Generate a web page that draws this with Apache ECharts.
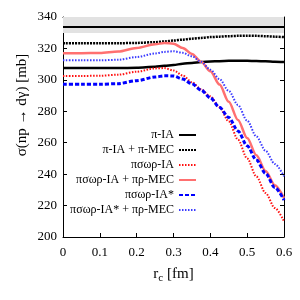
<!DOCTYPE html>
<html>
<head>
<meta charset="utf-8">
<script src="https://cdn.jsdelivr.net/npm/echarts@6/dist/echarts.min.js"></script>
<style>html,body{margin:0;padding:0;background:#fff}#c{width:300px;height:300px}</style>
</head>
<body>
<div id="c"></div>
<script>
// r_c grid [fm]
const rc = [0, 0.05, 0.1, 0.15, 0.2, 0.25, 0.275, 0.3, 0.325, 0.35, 0.375, 0.4, 0.425, 0.45, 0.475, 0.5, 0.525, 0.55, 0.575, 0.6];
const piIA = [307.5, 307.5, 307.5, 307.5, 307.7, 308.3, 308.9, 309.5, 310.2, 310.8, 311.3, 311.7, 311.9, 312.1, 312.1, 312.1, 312.0, 311.8, 311.5, 311.3];
const piIA_MEC = [323.3, 323.3, 323.3, 323.3, 323.5, 324.0, 324.4, 325.0, 325.6, 326.2, 326.7, 327.2, 327.5, 327.8, 328.0, 328.1, 328.0, 327.8, 327.5, 327.2];
const psorIA = [302.5, 302.5, 302.6, 303.3, 305.2, 307.3, 307.5, 306.0, 302.8, 298.5, 294.0, 289.5, 282.5, 273.5, 262.0, 250.0, 238.5, 228.0, 218.5, 210.0];
const psorIA_MEC = [317.0, 317.0, 317.1, 318.0, 320.3, 322.6, 323.5, 323.0, 320.3, 316.5, 311.5, 305.5, 297.0, 286.0, 274.5, 263.0, 252.0, 242.0, 233.0, 224.8];
const psorIAs = [297.2, 297.2, 297.2, 297.6, 299.5, 301.8, 302.6, 302.5, 300.5, 297.5, 293.5, 288.5, 282.5, 276.0, 267.5, 258.0, 249.0, 240.5, 231.5, 223.5];
const psorIAs_MEC = [312.4, 312.4, 312.4, 312.8, 314.5, 316.8, 317.8, 318.2, 317.2, 315.0, 311.5, 306.5, 300.5, 293.0, 284.0, 274.0, 264.0, 254.8, 246.5, 238.6];
// experimental band
const bandLow = 329.8, bandHigh = 340, bandValue = 334;
const names = ['π-IA', 'π-IA + π-MEC', 'πσωρ-IA', 'πσωρ-IA + πρ-MEC', 'πσωρ-IA*', 'πσωρ-IA* + πρ-MEC'];
const yTicks = [200, 220, 240, 260, 280, 300, 320, 340];
const xTicks = [0, 0.1, 0.2, 0.3, 0.4, 0.5, 0.6];

const pair = arr => rc.map((x, i) => [x, arr[i]]);
const serif = 'Liberation Serif';
function mk(name, data, color, width, type) {
  return { name, type: 'line', data: pair(data), showSymbol: false, symbol: 'none', smooth: 0.3, smoothMonotone: 'x',
    lineStyle: { color, width, type }, itemStyle: { color }, z: 3 };
}
const chart = echarts.init(document.getElementById('c'));
const tickCommon = { inside: true, length: 4, lineStyle: { color: '#000' } };
chart.setOption({
  animation: false,
  grid: { left: 63, right: 16, top: 17, bottom: 63 },
  xAxis: [{
    type: 'value', min: 0, max: 0.6, interval: 0.1, position: 'bottom',
    axisLine: { onZero: false, lineStyle: { color: '#000', width: 1 } },
    axisTick: tickCommon,
    axisLabel: { fontFamily: serif, fontSize: 13, color: '#000', margin: 9, formatter: v => String(xTicks[Math.round(v * 10)]) },
    splitLine: { show: false },
    name: '{r|r}{c|c}{r| [fm]}', nameLocation: 'middle', nameGap: 27,
    nameTextStyle: { rich: { r: { fontFamily: serif, fontSize: 15, color: '#000' }, c: { fontFamily: serif, fontSize: 11, color: '#000', padding: [9, 0, 0, 0] } } }
  }, {
    type: 'value', min: 0, max: 0.6, interval: 0.1, position: 'top',
    axisLine: { onZero: false, lineStyle: { color: '#000', width: 1 } },
    axisTick: tickCommon, axisLabel: { show: false }, splitLine: { show: false }
  }],
  yAxis: [{
    type: 'value', min: 200, max: 340, interval: 20, position: 'left',
    axisLine: { show: true, onZero: false, lineStyle: { color: '#000', width: 1 } },
    axisTick: tickCommon,
    axisLabel: { fontFamily: serif, fontSize: 13, color: '#000', margin: 6, formatter: v => String(yTicks[Math.round((v - 200) / 20)]) },
    splitLine: { show: false }
  }, {
    type: 'value', min: 200, max: 340, interval: 20, position: 'right',
    axisLine: { show: true, onZero: false, lineStyle: { color: '#000', width: 1 } },
    axisTick: tickCommon, axisLabel: { show: false }, splitLine: { show: false }
  }],
  legend: {
    orient: 'vertical', right: 103, top: 129, align: 'right', padding: 0,
    itemWidth: 17, itemHeight: 10, itemGap: 3,
    itemStyle: { opacity: 0 },
    textStyle: { fontFamily: serif, fontSize: 12, color: '#000' },
    data: names
  },
  graphic: [{
    type: 'text', x: 22, y: 105, rotation: Math.PI / 2,
    style: { text: 'σ(np → dγ) [mb]', font: '15px "Liberation Serif"', fill: '#000', align: 'center', verticalAlign: 'middle' }
  }],
  series: [
    { name: 'band', type: 'line', data: [], z: 1,
      markArea: { silent: true, itemStyle: { color: '#e2e2e2' }, data: [[{ yAxis: bandLow }, { yAxis: bandHigh }]] },
      markLine: { silent: true, symbol: 'none', label: { show: false }, lineStyle: { color: '#000', width: 2, type: 'solid' }, data: [{ yAxis: bandValue }] } },
    mk(names[0], piIA, '#000000', 2.5, 'solid'),
    mk(names[1], piIA_MEC, '#000000', 2.5, [2, 1]),
    mk(names[2], psorIA, '#ff1010', 2, [1.5, 1.5]),
    mk(names[3], psorIA_MEC, '#ff7070', 2.5, 'solid'),
    mk(names[4], psorIAs, '#0000ff', 3, [4, 2]),
    mk(names[5], psorIAs_MEC, '#3a3aff', 2, [1.5, 1.5])
  ]
});
</script>
</body>
</html>
